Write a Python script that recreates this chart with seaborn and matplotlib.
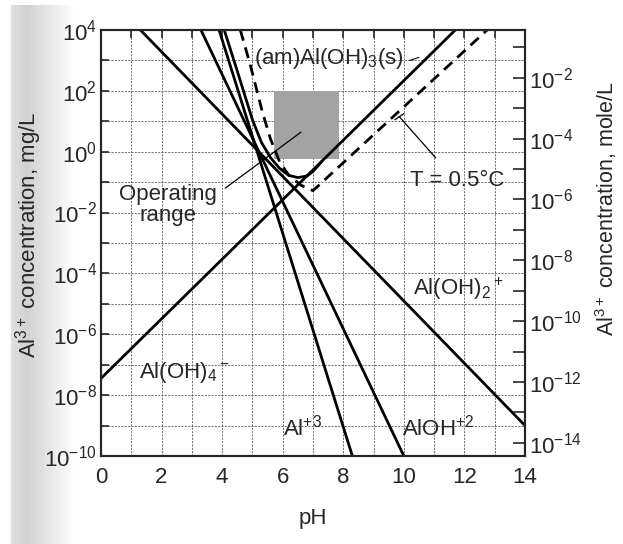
import numpy as np
import pandas as pd
import matplotlib
matplotlib.use("Agg")
import matplotlib.pyplot as plt
import matplotlib.ticker as mticker
from matplotlib.patches import Rectangle
import seaborn as sns

# values: pH and log10(Al, mg/L)
al3_ph = [3.9, 8.3]
al3_log = [4.0, -10.0]
aloh_ph = [3.3, 10.0]
aloh_log = [4.0, -10.0]
aloh2_ph = [1.3, 14.0]
aloh2_log = [4.0, -9.0]
aloh4_ph = [0.0, 11.7]
aloh4_log = [-7.45, 4.0]
total_ph = [4.07, 4.5, 5.0, 5.3, 5.6, 5.9, 6.2, 6.5, 6.8, 7.0, 7.3]
total_log = [4.0, 2.65, 1.05, 0.3, -0.2, -0.55, -0.78, -0.85, -0.8, -0.65, -0.31]
cold_ph = [4.6, 4.93, 5.33, 5.6, 5.9, 6.2, 6.6, 7.0, 12.75]
cold_log = [4.0, 2.85, 1.3, 0.41, -0.34, -0.77, -1.1, -1.28, 4.0]
op_ph = [5.7, 7.85]
op_log = [-0.25, 2.0]
mg_per_mol = 27000.0

sns.set_style("white")
plt.rcParams['font.family'] = ['Liberation Sans', 'DejaVu Sans']
plt.rcParams['mathtext.fontset'] = 'custom'
plt.rcParams['mathtext.rm'] = 'Liberation Sans'
plt.rcParams['mathtext.it'] = 'Liberation Sans'
FS = 16

fig = plt.figure(figsize=(6.23, 5.44), dpi=100)

# grey scan shading on the left edge
bg = fig.add_axes([0, 0, 0.14, 0.99], zorder=-5)
cols = np.linspace(0, 1, 90)
shade = np.clip(1 - np.abs(cols - 0.3) / 0.55, 0, 1) * 0.4
shade[cols < 0.12] = 0
img = np.zeros((10, 90, 4))
img[..., 0:3] = 0.55
img[..., 3] = shade
bg.imshow(img, aspect='auto', extent=[0, 1, 0, 1])
bg.axis('off')

ax = fig.add_axes([0.1621, 0.1618, 0.6806, 0.7831])
ax.set_yscale('log')

def draw(ph, lg, **kw):
    df = pd.DataFrame({'pH': ph, 'c': 10 ** np.array(lg)})
    sns.lineplot(data=df, x='pH', y='c', ax=ax, sort=False, estimator=None,
                 color='black', **kw)

ax.add_patch(Rectangle((op_ph[0], 10 ** op_log[0]), op_ph[1] - op_ph[0],
                       10 ** op_log[1] - 10 ** op_log[0],
                       facecolor='#a3a3a3', edgecolor='none', zorder=1))

for ph, lg in [(al3_ph, al3_log), (aloh_ph, aloh_log), (aloh2_ph, aloh2_log),
               (aloh4_ph, aloh4_log), (total_ph, total_log)]:
    draw(ph, lg, linewidth=2.0)
draw(cold_ph, cold_log, linewidth=2.0, linestyle=(0, (4, 2.5)))

ax.set_xlim(0, 14)
ax.set_ylim(1e-10, 1e4)
ax.set_xticks(range(0, 15, 2))
ax.set_xticks(range(1, 14, 2), minor=True)
ax.set_yticks([10.0 ** k for k in range(-10, 5, 2)])
ax.set_yticks([10.0 ** k for k in range(-9, 4, 2)], minor=True)
fmt = mticker.FuncFormatter(lambda v, p: r'$\mathregular{10^{%d}}$' % round(np.log10(v)))
ax.yaxis.set_major_formatter(fmt)
ax.yaxis.set_minor_formatter(mticker.NullFormatter())
ax.grid(True, which='both', color='0.35', linewidth=0.6, linestyle=(0, (2.5, 1.5)))
ax.tick_params(which='both', direction='in', labelsize=FS, width=1.2, length=6,
               top=True)
ax.tick_params(axis='x', pad=8)
ax.tick_params(axis='y', pad=3)
for s in ax.spines.values():
    s.set_linewidth(1.5)
    s.set_color('black')
ax.set_xlabel('pH', fontsize=FS, labelpad=14)
ax.set_ylabel(r'Al$^{\mathregular{3+}}$ concentration, mg/L', fontsize=FS)
ax.yaxis.set_label_coords(-0.135, 0.52)

ax2 = ax.twinx()
ax2.set_yscale('log')
ax2.set_ylim(1e-10 / mg_per_mol, 1e4 / mg_per_mol)
ax2.set_yticks([10.0 ** k for k in range(-14, -1, 2)])
ax2.set_yticks([10.0 ** k for k in range(-13, 0, 2)], minor=True)
ax2.yaxis.set_major_formatter(fmt)
ax2.yaxis.set_minor_formatter(mticker.NullFormatter())
ax2.tick_params(which='both', direction='in', labelsize=FS, width=1.2, length=9, pad=3)
ax2.set_ylabel(r'Al$^{\mathregular{3+}}$ concentration, mole/L', fontsize=15.5)
ax2.yaxis.set_label_coords(1.16, 0.58)
for s in ax2.spines.values():
    s.set_linewidth(1.5)

# labels
ax.text(5.05, 10 ** 3.05, r'(am)Al(OH)$_3$(s)', fontsize=FS, va='center', ha='left')
ax.plot([10.2, 10.5], [10 ** 3.0, 10 ** 3.1], color='black', lw=0.8)
ax.text(10.2, 10 ** -0.95, 'T = 0.5°C', fontsize=FS, va='center', ha='left')
ax.plot([11.05, 9.85], [10 ** -0.2, 10 ** 1.15], color='black', lw=0.9)
ax.plot([9.7, 10.0], [10 ** 1.05, 10 ** 1.25], color='black', lw=0.9)
ax.text(2.2, 10 ** -1.75, 'Operating\nrange', fontsize=FS, va='center', ha='center',
        linespacing=1.0)
ax.plot([4.1, 6.6], [10 ** -1.2, 10 ** 0.64], color='black', lw=0.9)
ax.text(10.3, 10 ** -4.5, r'Al(OH)$_2$$^+$', fontsize=FS, va='center', ha='left')
ax.text(1.25, 10 ** -7.25, r'Al(OH)$_4$$^-$', fontsize=FS, va='center', ha='left')
ax.text(6.0, 10 ** -9.05, r'Al$^{+3}$', fontsize=FS, va='center', ha='left')
ax.text(9.95, 10 ** -9.05, r'AlOH$^{+2}$', fontsize=FS, va='center', ha='left')

fig.savefig('out.png', dpi=100)
